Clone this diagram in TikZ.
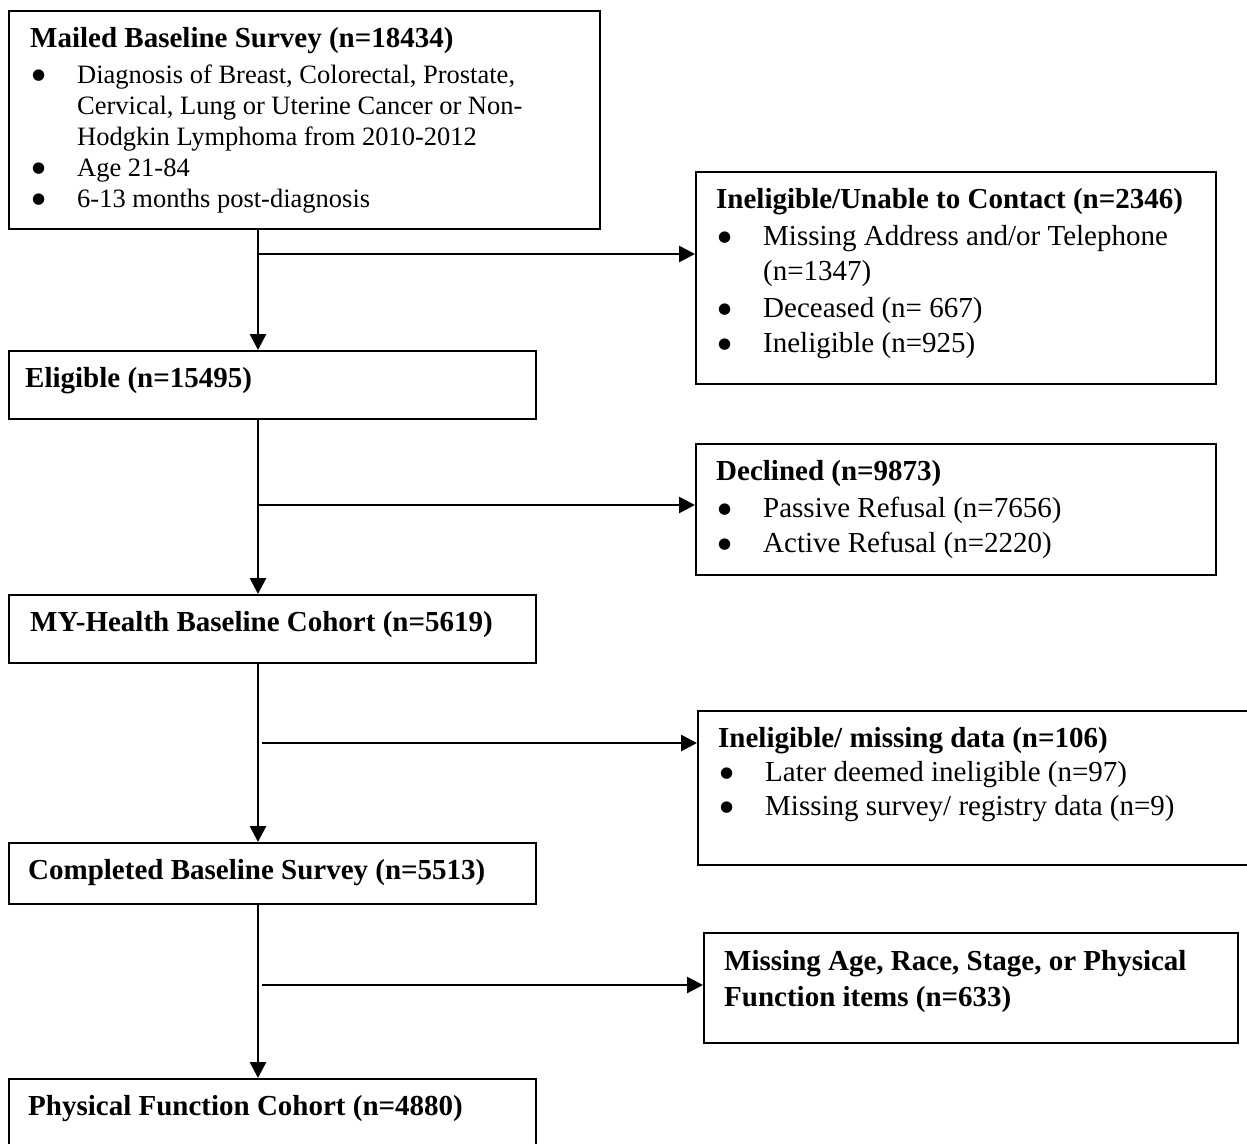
\documentclass[tikz,border=0pt]{standalone}
\usepackage{fontspec}
\setmainfont{Liberation Serif}
\newfontfamily\dotfont{DejaVu Sans}
\usetikzlibrary{arrows.meta}

\newcommand{\bigfont}[1]{\fontsize{29}{#1}\selectfont}
\newcommand{\listfont}{\fontsize{26.5}{31}\selectfont}
\newcommand{\itemdot}{\makebox[47pt][l]{\hspace{2pt}\raisebox{3.5pt}{\dotfont\fontsize{15}{15}\selectfont ●}}}

\tikzset{
    box/.style={draw, line width=2pt, anchor=north west, inner sep=0pt},
    txt/.style={anchor=base west, inner sep=0pt, align=left},
    flow/.style={line width=2.8pt, -{Triangle[length=16pt, width=16pt]}},
}

\begin{document}
\begin{tikzpicture}[x=1pt, y=-1pt]
    \useasboundingbox (0, 0) rectangle (1247, 1143);

    % main column
    \node[box, minimum width=591pt, minimum height=218pt] (mailed) at (8, 10) {};
    \node[box, minimum width=527pt, minimum height=68pt] (eligible) at (8, 350) {};
    \node[box, minimum width=527pt, minimum height=68pt] (cohort) at (8, 594) {};
    \node[box, minimum width=527pt, minimum height=61pt] (completed) at (8, 842) {};
    \node[box, minimum width=527pt, minimum height=90pt] (physical) at (8, 1078) {};

    % exclusions
    \node[box, minimum width=520pt, minimum height=212pt] (unable) at (695, 171) {};
    \node[box, minimum width=520pt, minimum height=131pt] (declined) at (695, 443) {};
    \node[box, minimum width=570pt, minimum height=154pt] (missing) at (697, 710) {};
    \node[box, minimum width=534pt, minimum height=110pt] (items) at (703, 932) {};

    % texts
    \node[txt] (mailedtxt) at (30, 47) {\listfont\begin{tabular}[t]{@{}l@{}}
        {\bigfont{31}\bfseries Mailed Baseline Survey (n=18434)}\\[5pt]
        \itemdot Diagnosis of Breast, Colorectal, Prostate,\\
        \hspace{47pt}Cervical, Lung or Uterine Cancer or Non-\\
        \hspace{47pt}Hodgkin Lymphoma from 2010-2012\\
        \itemdot Age 21-84\\
        \itemdot 6-13 months post-diagnosis
    \end{tabular}};
    \node[txt, font=\bigfont{35}\bfseries] (eligibletxt) at (25, 387) {Eligible (n=15495)};
    \node[txt, font=\bigfont{35}\bfseries] (cohorttxt) at (30, 631) {MY-Health Baseline Cohort (n=5619)};
    \node[txt, font=\bigfont{35}\bfseries] (completedtxt) at (28, 879) {Completed Baseline Survey (n=5513)};
    \node[txt, font=\bigfont{35}\bfseries] (physicaltxt) at (28, 1115) {Physical Function Cohort (n=4880)};

    \node[txt] (unabletxt) at (716, 208) {\bigfont{35}\begin{tabular}[t]{@{}l@{}}
        \textbf{Ineligible/Unable to Contact (n=2346)}\\[2pt]
        \itemdot Missing Address and/or Telephone\\
        \hspace{47pt}(n=1347)\\[2pt]
        \itemdot Deceased (n= 667)\\
        \itemdot Ineligible (n=925)
    \end{tabular}};
    \node[txt] (declinedtxt) at (716, 480) {\bigfont{35}\begin{tabular}[t]{@{}l@{}}
        \textbf{Declined (n=9873)}\\[2pt]
        \itemdot Passive Refusal (n=7656)\\
        \itemdot Active Refusal (n=2220)
    \end{tabular}};
    \node[txt] (missingtxt) at (718, 747) {\bigfont{34}\begin{tabular}[t]{@{}l@{}}
        \textbf{Ineligible/ missing data (n=106)}\\
        \itemdot Later deemed ineligible (n=97)\\
        \itemdot Missing survey/ registry data (n=9)
    \end{tabular}};
    \node[txt] (itemstxt) at (724, 970) {\bigfont{36}\bfseries\begin{tabular}[t]{@{}l@{}}
        Missing Age, Race, Stage, or Physical\\
        Function items (n=633)
    \end{tabular}};

    % connectors
    \coordinate (spine) at (258, 0);
    \draw[flow] (spine |- mailed.south) -- (spine |- eligible.north);
    \draw[flow] (spine |- eligible.south) -- (spine |- cohort.north);
    \draw[flow] (spine |- cohort.south) -- (spine |- completed.north);
    \draw[flow] (spine |- completed.south) -- (spine |- physical.north);

    \coordinate (b1) at (258, 254);
    \coordinate (b2) at (258, 505);
    \coordinate (b3) at (262, 743);
    \coordinate (b4) at (262, 985);
    \draw[flow] (b1) -- (b1 -| unable.west);
    \draw[flow] (b2) -- (b2 -| declined.west);
    \draw[flow] (b3) -- (b3 -| missing.west);
    \draw[flow] (b4) -- (b4 -| items.west);
\end{tikzpicture}
\end{document}
